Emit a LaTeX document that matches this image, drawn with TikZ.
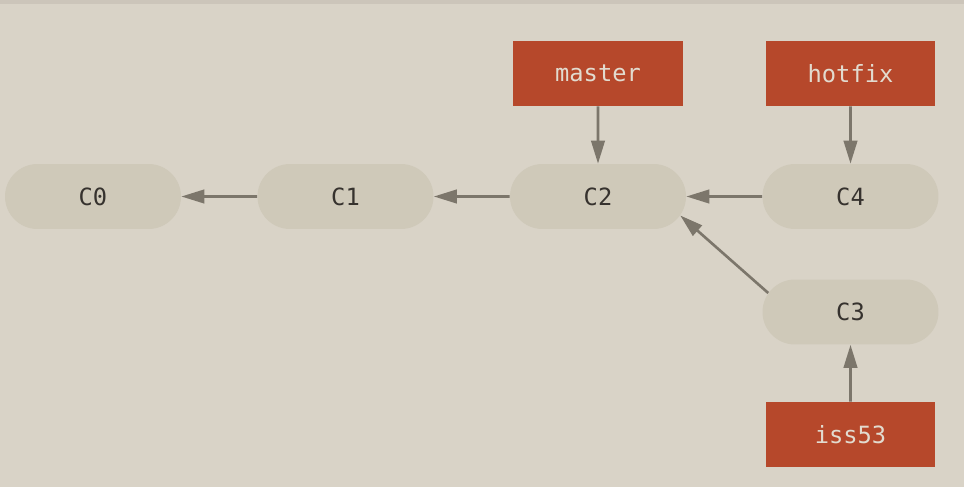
\documentclass[tikz,border=0pt]{standalone}
\usepackage{fontspec}
\setmonofont{DejaVu Sans Mono}
\usetikzlibrary{shapes.misc,arrows.meta}
\definecolor{bgcol}{HTML}{D9D3C7}
\definecolor{topcol}{HTML}{CCC5BA}
\definecolor{commitcol}{HTML}{CFC9B9}
\definecolor{branchcol}{HTML}{B6482B}
\definecolor{arrowcol}{HTML}{7C766B}
\definecolor{darktext}{HTML}{36322E}
\definecolor{lighttext}{HTML}{E2DBCF}
\begin{document}
\begin{tikzpicture}[x=0.02cm,y=-0.02cm,
  commit/.style={rounded rectangle, fill=commitcol, minimum width=3.52cm, minimum height=1.3cm, inner sep=0pt, text=darktext, font=\ttfamily\fontsize{13.5}{16}\selectfont},
  branch/.style={rectangle, fill=branchcol, minimum width=3.4cm, minimum height=1.3cm, inner sep=0pt, text=lighttext, font=\ttfamily\fontsize{13.5}{16}\selectfont},
  ptr/.style={draw=arrowcol, line width=1.5pt, -{Triangle[length=0.46cm,width=0.27cm]}}]
\fill[bgcol] (0,0) rectangle (964,487);
\fill[topcol] (0,0) rectangle (964,4);
\node[commit] (c0) at (93,196.5){C0};
\node[commit] (c1) at (345.5,196.5){C1};
\node[commit] (c2) at (598,196.5){C2};
\node[commit] (c4) at (850.5,196.5){C4};
\node[commit] (c3) at (850.5,312){C3};
\node[branch] (master) at (598,73.5){master};
\node[branch] (hotfix) at (850.5,73.5){hotfix};
\node[branch] (iss53) at (850.5,434.5){iss53};
\draw[ptr](c1) -- (c0);
\draw[ptr](c2) -- (c1);
\draw[ptr](c4) -- (c2);
\draw[ptr](c3.167) -- (c2.-13);
\draw[ptr](master) -- (c2);
\draw[ptr](hotfix) -- (c4);
\draw[ptr](iss53) -- (c3);
\end{tikzpicture}
\end{document}
